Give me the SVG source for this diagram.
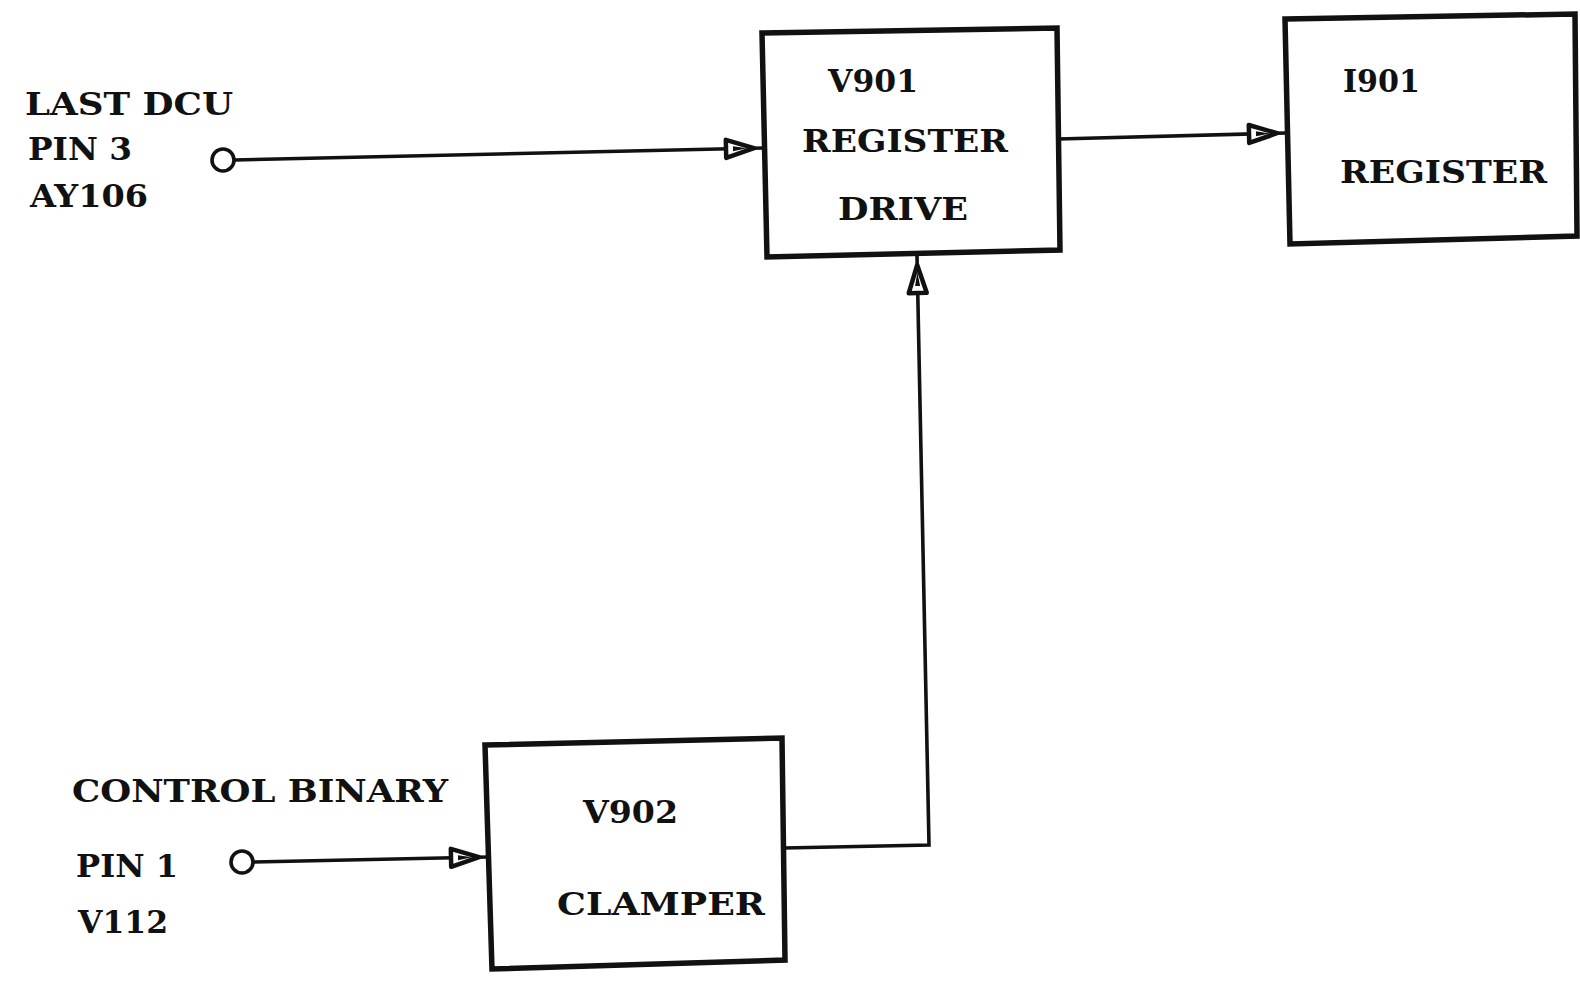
<svg xmlns="http://www.w3.org/2000/svg" width="1580" height="985" viewBox="0 0 1580 985">
<style>
.box{fill:none;stroke:#111;stroke-width:5.5;stroke-linejoin:miter}
.wire{fill:none;stroke:#111;stroke-width:3.6}
.term{fill:#fff;stroke:#111;stroke-width:3.6}
text{font-family:"DejaVu Serif","Liberation Serif",serif;font-weight:bold;fill:#111;font-size:32px}
</style>
<defs>
<marker id="arr" markerUnits="userSpaceOnUse" markerWidth="46" markerHeight="28" viewBox="-3 -14 46 28" refX="38" refY="0" orient="auto">
<path d="M1,-9 L29,0 L1,9 Z" fill="#fff" stroke="#111" stroke-width="4.5" stroke-linejoin="round"/>
<path d="M8,-2.5 L22,0 L8,2.5 Z" fill="#111"/>
</marker>
</defs>
<rect width="1580" height="985" fill="#fff"/>

<g id="connectors">
<circle class="term" cx="223" cy="160" r="11"/>
<path class="wire" d="M234,160 L763,148" marker-end="url(#arr)"/>
<path class="wire" d="M1058,139 L1286,133" marker-end="url(#arr)"/>
<circle class="term" cx="242" cy="862" r="11"/>
<path class="wire" d="M253,862 L488,857" marker-end="url(#arr)"/>
<path class="wire" d="M784,848 L929,845 L917,256" marker-end="url(#arr)"/>
</g>

<g id="v901">
<polygon class="box" points="762,33 1057,28 1060,250 767,257"/>
<text x="828" y="92" textLength="90" lengthAdjust="spacingAndGlyphs">V901</text>
<text x="802" y="152" textLength="206" lengthAdjust="spacingAndGlyphs">REGISTER</text>
<text x="838" y="220" textLength="130" lengthAdjust="spacingAndGlyphs">DRIVE</text>
</g>

<g id="i901">
<polygon class="box" points="1285,19 1575,14 1577,236 1290,244"/>
<text x="1343" y="92" textLength="77" lengthAdjust="spacingAndGlyphs">I901</text>
<text x="1340" y="183" textLength="207" lengthAdjust="spacingAndGlyphs">REGISTER</text>
</g>

<g id="v902">
<polygon class="box" points="485,745 782,738 785,960 492,969"/>
<text x="583" y="823" textLength="95" lengthAdjust="spacingAndGlyphs">V902</text>
<text x="557" y="915" textLength="208" lengthAdjust="spacingAndGlyphs">CLAMPER</text>
</g>

<g id="input-last-dcu">
<text x="25" y="115" textLength="208" lengthAdjust="spacingAndGlyphs">LAST DCU</text>
<text x="28" y="160" textLength="104" lengthAdjust="spacingAndGlyphs">PIN 3</text>
<text x="30" y="207" textLength="118" lengthAdjust="spacingAndGlyphs">AY106</text>
</g>

<g id="input-control-binary">
<text x="72" y="802" textLength="376" lengthAdjust="spacingAndGlyphs">CONTROL BINARY</text>
<text x="76" y="877" textLength="102" lengthAdjust="spacingAndGlyphs">PIN 1</text>
<text x="78" y="933" textLength="90" lengthAdjust="spacingAndGlyphs">V112</text>
</g>
</svg>
